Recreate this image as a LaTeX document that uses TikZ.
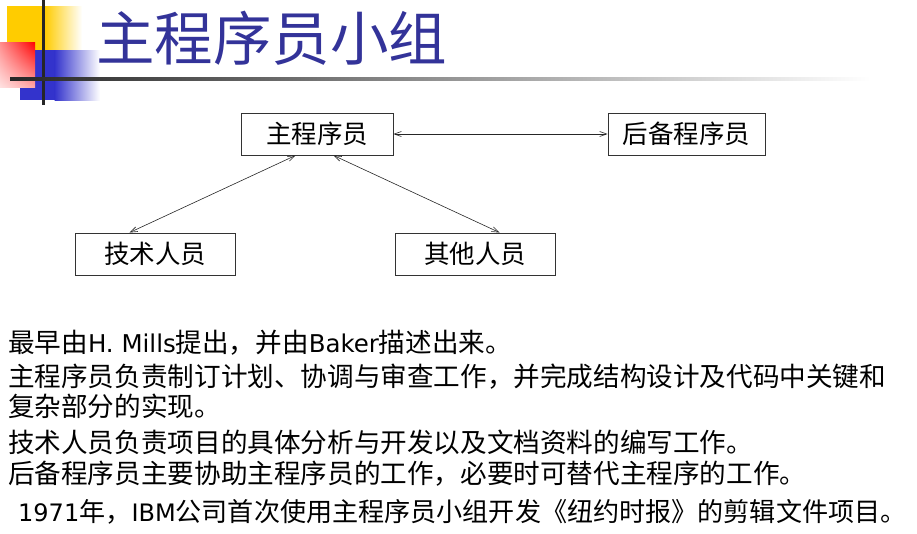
\documentclass[tikz,border=0pt]{standalone}
\usepackage{fontspec}
\setmainfont{Noto Sans CJK SC}
\newfontfamily\latinf{DejaVu Sans}[Scale=0.92]
\usetikzlibrary{arrows.meta,shadings}
\definecolor{titleblue}{RGB}{51,51,153}
\definecolor{decoyellow}{RGB}{255,204,0}
\definecolor{decoblue}{RGB}{51,51,204}
\definecolor{decored}{RGB}{255,0,0}
\begin{document}
\begin{tikzpicture}[x=1pt,y=-1pt,
  box/.style={draw=black!80,line width=0.9pt,minimum width=152pt,minimum height=42pt,inner sep=0pt,font=\fontsize{25.5}{27}\selectfont},
  link/.style={draw=black!85,line width=0.6pt,{Straight Barb[length=7pt,width=5pt]}-{Straight Barb[length=7pt,width=5pt]}},
  body/.style={anchor=west,inner sep=0pt,font=\fontsize{26.6}{30}\selectfont}]
\useasboundingbox (0,0) rectangle (917,533);
% decoration
\fill[decoyellow] (7,6) rectangle (45,50);
\shade[left color=decoyellow,right color=white] (44.5,6) rectangle (82,50);
\fill[decoblue] (20,50) rectangle (55,100);
\shade[left color=decoblue,right color=white] (54.5,50) rectangle (100,100);
\shade[upper right=decored,upper left=red!45,lower right=red!35,lower left=red!12] (0,42) rectangle (35,87);
\fill[black!85] (42,0) rectangle (45,105);
\shade[left color=black!85,right color=white] (10,77.5) rectangle (870,80.5);
% title
\node[anchor=west,inner sep=0pt,text=titleblue,font=\fontsize{58.5}{62}\selectfont] (title) at (96,38) {主程序员小组};
% diagram
\node[box,minimum width=152pt] (chief) at (317,134) {主程序员};
\node[box,minimum width=157pt] (backup) at (686.5,134) {后备程序员};
\node[box,minimum width=160pt] (tech) at (155,254) {技术人员};
\node[box,minimum width=160pt] (other) at (475,254) {其他人员};
\draw[link] (chief.east) -- (backup.west);
\path (tech.north west) ++(55,0) coordinate (t1);
\path (chief.south west) ++(55,0) coordinate (c1);
\draw[link] (t1) -- (c1);
\path (other.north west) ++(105,0) coordinate (o1);
\path (chief.south west) ++(93,0) coordinate (c2);
\draw[link] (o1) -- (c2);
% text
\node[body] (l1) at (8,343) {最早由{\latinf H. Mills}提出，并由{\latinf Baker}描述出来。};
\node[body] (l2) at (8,377) {主程序员负责制订计划、协调与审查工作，并完成结构设计及代码中关键和};
\node[body] (l3) at (8,406) {复杂部分的实现。};
\node[body] (l4) at (8,442) {技术人员负责项目的具体分析与开发以及文档资料的编写工作。};
\node[body] (l5) at (8,474) {后备程序员主要协助主程序员的工作，必要时可替代主程序的工作。};
\node[body,font=\fontsize{26.1}{30}\selectfont] (l6) at (18,512) {{\latinf 1971}年，{\latinf IBM}公司首次使用主程序员小组开发《纽约时报》的剪辑文件项目。};
\end{tikzpicture}
\end{document}
